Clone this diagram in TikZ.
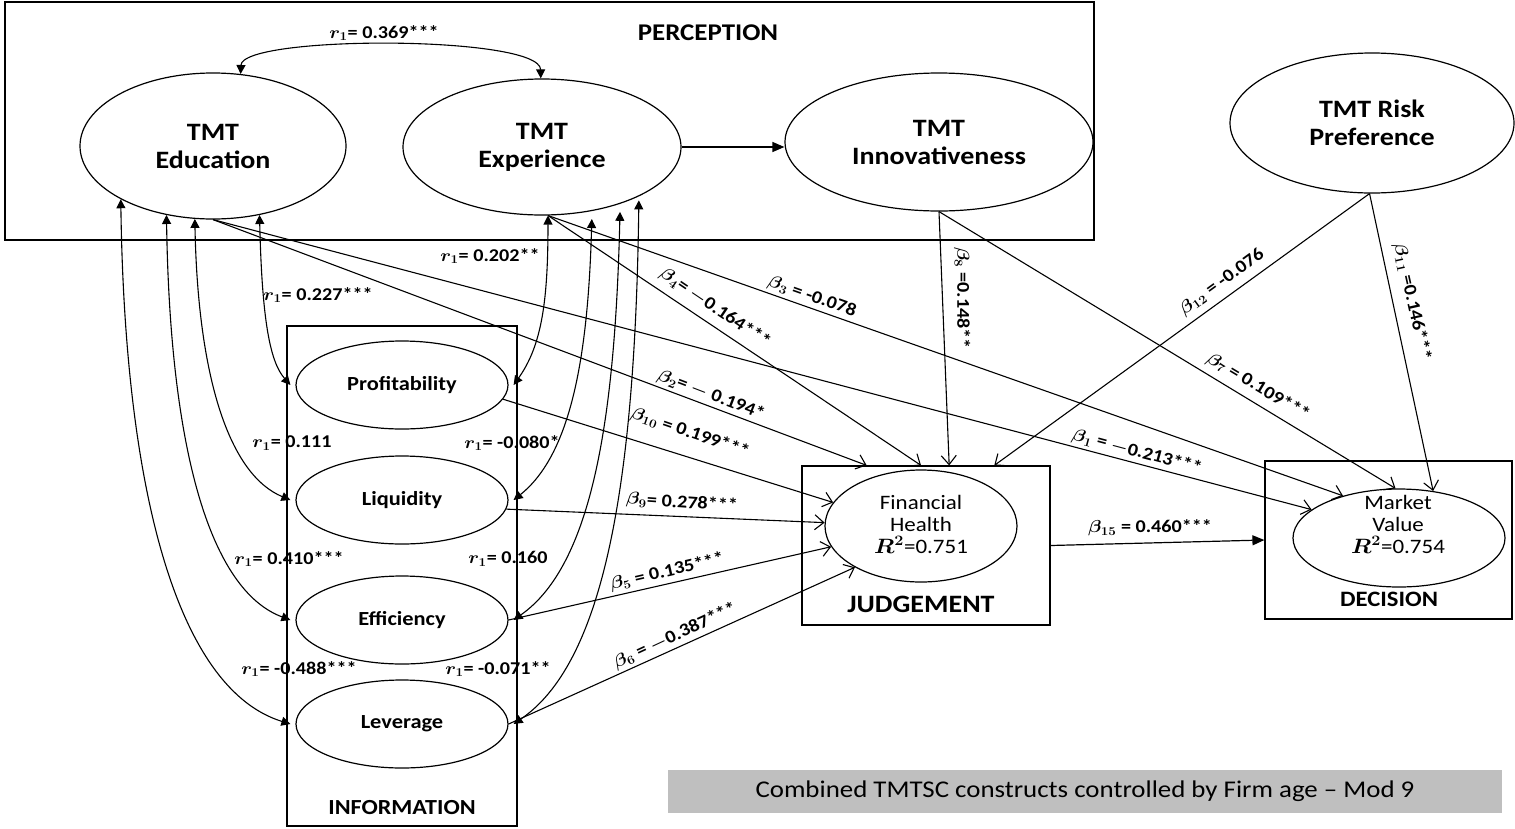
\documentclass[tikz,border=0pt]{standalone}
\usepackage{fontspec}
\setmainfont{Carlito}
\usepackage{amsmath}
\usepackage{graphicx}
\usetikzlibrary{shapes.geometric,arrows.meta,calc}
\newcommand{\sx}[1]{\scalebox{1.12}[1]{#1}}
\definecolor{capgray}{RGB}{191,191,191}
\begin{document}
\begin{tikzpicture}[x=1pt,y=-1pt,
  ell/.style={draw, ellipse, line width=1.2pt, inner sep=0pt, align=center},
  boxs/.style={draw, line width=1.2pt, inner sep=0pt},
  ttl/.style={font=\fontsize{25}{28}\selectfont\bfseries},
  ind/.style={font=\fontsize{20}{24}\selectfont\bfseries},
  lab/.style={font=\fontsize{18}{20}\selectfont\bfseries\boldmath, inner sep=0pt},
  corr/.style={line width=1.1pt, {Triangle[length=9pt,width=9pt]}-{Triangle[length=9pt,width=9pt]}},
  reg/.style={line width=1.1pt, -{Straight Barb[length=9pt,width=15pt,line width=1.1pt]}},
  filled/.style={line width=1.2pt, -{Triangle[length=12pt,width=10pt]}}
]
\useasboundingbox (0,0) rectangle (1515,828);

% group boxes
\node[boxs, minimum width=1089pt, minimum height=238pt] (perc) at (549.5,121) {};
\node[boxs, minimum width=230pt, minimum height=500pt] (info) at (402,576) {};
\node[boxs, minimum width=248pt, minimum height=159pt] (judg) at (926,545.5) {};
\node[boxs, minimum width=247pt, minimum height=158pt] (dec) at (1388.5,540) {};
\node[fill=capgray, minimum width=834pt, minimum height=43pt, inner sep=0pt] (cap) at (1085,791.5)
  {\fontsize{24}{26}\selectfont\sx{Combined TMTSC constructs controlled by Firm age -- Mod 9}};

% group labels
\node[font=\fontsize{24}{26}\selectfont\bfseries] (percl) at (708,33) {\sx{PERCEPTION}};
\node[font=\fontsize{21.5}{24}\selectfont\bfseries] (infol) at (402,808) {\sx{INFORMATION}};
\node[font=\fontsize{25}{28}\selectfont\bfseries] (judgl) at (921,604) {\sx{JUDGEMENT}};
\node[font=\fontsize{22}{24}\selectfont\bfseries] (decl) at (1389,599) {\sx{DECISION}};

% constructs
\node[ell, ttl, minimum width=266pt, minimum height=146pt] (edu) at (213,146) {\sx{TMT}\\\sx{Education}};
\node[ell, ttl, minimum width=278pt, minimum height=136pt] (exp) at (542,147) {\sx{TMT}\\\sx{Experience}};
\node[ell, ttl, minimum width=308pt, minimum height=138pt] (inn) at (939,142) {\sx{TMT}\\\sx{Innovativeness}};
\node[ell, ttl, minimum width=284pt, minimum height=140pt] (risk) at (1372,123) {\sx{TMT Risk}\\\sx{Preference}};

\node[ell, ind, minimum width=212pt, minimum height=88pt] (prof) at (402,385) {\sx{Profitability}};
\node[ell, ind, minimum width=212pt, minimum height=88pt] (liq) at (402,500) {\sx{Liquidity}};
\node[ell, ind, minimum width=212pt, minimum height=88pt] (eff) at (402,620) {\sx{Efficiency}};
\node[ell, ind, minimum width=212pt, minimum height=88pt] (lev) at (402,724) {\sx{Leverage}};

\node[ell, minimum width=192pt, minimum height=112pt] (fh) at (921,526) {};
\node[align=center, font=\fontsize{20.5}{22}\selectfont, inner sep=0pt] (fht) at (921,524)
  {\sx{Financial}\\\sx{Health}\\\sx{{\boldmath$R^2$}=0.751}};
\node[ell, minimum width=212pt, minimum height=98pt] (mv) at (1399,538) {};
\node[align=center, font=\fontsize{20.5}{22}\selectfont, inner sep=0pt] (mvt) at (1398,524)
  {\sx{Market}\\\sx{Value}\\\sx{{\boldmath$R^2$}=0.754}};

% correlations
\draw[corr] (edu.69) .. controls (242,35) and (540,35) .. (exp.91);
\draw[corr] (edu.304) .. controls (262,320) and (270,362) .. ([xshift=-5pt]prof.west);
\draw[corr] (edu.256) .. controls (198,380) and (230,475) .. ([xshift=-5pt]liq.west);
\draw[corr] (edu.236) .. controls (170,450) and (210,590) .. ([xshift=-5pt]eff.west);
\draw[corr] (edu.210) .. controls (125,500) and (180,690) .. ([xshift=-5pt]lev.west);
\draw[corr] (exp.275) .. controls (548,300) and (542,345) .. ([xshift=5pt]prof.east);
\draw[corr, shorten <=8pt] (exp.308) .. controls (588,360) and (570,455) .. ([xshift=5pt]liq.east);
\draw[corr, shorten <=8pt] (exp.324) .. controls (615,420) and (592,565) .. ([xshift=5pt]eff.east);
\draw[corr, shorten <=4pt] (exp.333) .. controls (635,500) and (600,665) .. ([xshift=5pt]lev.east);

% regressions
\draw[reg] (edu.270) -- (mv.162);
\draw[reg] (edu.270) -- ($(judg.north west)!0.262!(judg.north east)$);
\draw[reg] (exp.275) -- (mv.143);
\draw[reg] (exp.275) -- ($(judg.north west)!0.48!(judg.north east)$);
\draw[reg] (eff.east) -- (fh.193);
\draw[reg] (lev.east) -- (fh.212);
\draw[reg] (inn.270) -- (mv.94);
\draw[reg] (inn.270) -- ($(judg.north west)!0.593!(judg.north east)$);
\draw[reg] (liq.-5) -- (fh.178);
\draw[reg] (prof.-8) -- (fh.165);
\draw[reg] (risk.268) -- (mv.54);
\draw[reg] (risk.268) -- ($(judg.north west)!0.774!(judg.north east)$);
\draw[filled] (judg.east) -- (dec.west);
\draw[filled] (exp.east) -- (exp.east -| inn.west);

% correlation labels
\node[lab] (r0) at (384,33) {\sx{$r_1$= 0.369***}};
\node[lab] (r1) at (318,295) {\sx{$r_1$= 0.227***}};
\node[lab] (r2) at (490,256) {\sx{$r_1$= 0.202**}};
\node[lab] (r3) at (292,443) {\sx{$r_1$= 0.111}};
\node[lab] (r4) at (512,443) {\sx{$r_1$= -0.080*}};
\node[lab] (r5) at (289,559) {\sx{$r_1$= 0.410***}};
\node[lab] (r6) at (508,559) {\sx{$r_1$= 0.160}};
\node[lab] (r7) at (299,669) {\sx{$r_1$= -0.488***}};
\node[lab] (r8) at (498,669) {\sx{$r_1$= -0.071**}};

% path labels
\node[lab, rotate=-15] (b1) at (1137,452) {\sx{$\beta_1$ = $-$0.213***}};
\node[lab, rotate=-21] (b2) at (711,395) {\sx{$\beta_2$= $-$ 0.194*}};
\node[lab, rotate=-19.5] (b3) at (812,297) {\sx{$\beta_3$ = -0.078}};
\node[lab, rotate=-34] (b4) at (715,308) {\sx{$\beta_4$= $-$0.164***}};
\node[lab, rotate=13] (b5) at (667,572) {\sx{$\beta_5$ = 0.135***}};
\node[lab, rotate=25] (b6) at (675,636) {\sx{$\beta_6$ = $-$0.387***}};
\node[lab, rotate=-31] (b7) at (1258,387) {\sx{$\beta_7$ = 0.109***}};
\node[lab, rotate=-90] (b8) at (962,298) {\sx{$\beta_8$ =0.148**}};
\node[lab, rotate=-4] (b9) at (682,503) {\sx{$\beta_9$= 0.278***}};
\node[lab, rotate=-19] (b10) at (690,433) {\sx{$\beta_{10}$ = 0.199***}};
\node[lab, rotate=-77.4] (b11) at (1412,302) {\sx{$\beta_{11}$ =0.146***}};
\node[lab, rotate=36] (b12) at (1222,282) {\sx{$\beta_{12}$ = -0.076}};
\node[lab] (b15) at (1150,528) {\sx{$\beta_{15}$ = 0.460***}};
\end{tikzpicture}
\end{document}
